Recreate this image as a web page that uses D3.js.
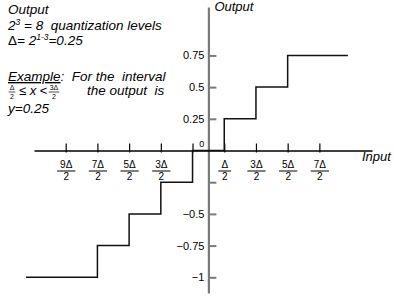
<!DOCTYPE html>
<html>
<head>
<meta charset="utf-8">
<script src="https://cdn.jsdelivr.net/npm/d3@7"></script>
<style>
  body { margin: 0; background: #fff; }
  svg text { font-family: "Liberation Sans", Arial, sans-serif; white-space: pre; }
</style>
</head>
<body>
<div id="chart"></div>
<script>
// quantizer: output level and where each step starts (input in units of delta)
let stepStarts = [-5.75, -3.5, -2.5, -1.5, -0.5, 0.5, 1.5, 2.5];
let stepLevels = [-1, -0.75, -0.5, -0.25, 0, 0.25, 0.5, 0.75];
let stepEnd = 4.4;

// input ticks and the numerators of their fraction labels (all over 2)
let xTicks = [-4.5, -3.5, -2.5, -1.5, -0.5, 0.5, 1.5, 2.5, 3.5];
let xTickNums = ['9Δ', '7Δ', '5Δ', '3Δ', '', 'Δ', '3Δ', '5Δ', '7Δ'];

// output ticks
let yTicks = [-1, -0.75, -0.5, -0.25, 0.25, 0.5, 0.75];
let yTickLabels = ['−1', '−0.75', '−0.5', '', '0.25', '0.5', '0.75'];

let width = 394, height = 296;

let svg = d3.select('#chart')
    .append('svg')
    .attr('width', width)
    .attr('height', height);

let x = d3.scaleLinear().domain([-5.5, 5.16]).range([34, 372]);
let y = d3.scaleLinear().domain([-1.124, 1.132]).range([293, 7]);

//Y Axis (gray, ticks pointing right, labels left)
let yAxisCall = d3.axisLeft(y)
    .tickValues(yTicks)
    .tickSizeInner(-8)
    .tickSizeOuter(0)
    .tickPadding(4)
    .tickFormat(function (d, i) { return yTickLabels[i]; });

let yAxis = svg.append('g')
    .attr('transform', 'translate(' + x(0) + ',0)')
    .call(yAxisCall);
yAxis.select('.domain').attr('stroke', '#7a7a7a').attr('stroke-width', 2.2);
yAxis.selectAll('.tick line').attr('stroke', '#7a7a7a').attr('stroke-width', 2);
yAxis.selectAll('.tick text')
    .attr('font-family', '"Liberation Sans", Arial, sans-serif')
    .attr('font-size', '11px')
    .attr('fill', '#000');

//X Axis (black, ticks crossing the line)
let xAxisCall = d3.axisBottom(x)
    .tickValues(xTicks)
    .tickSizeOuter(0)
    .tickFormat('');

let xAxis = svg.append('g')
    .attr('transform', 'translate(0,' + y(0) + ')')
    .call(xAxisCall);
xAxis.select('.domain').attr('stroke', '#000').attr('stroke-width', 1.3);
xAxis.selectAll('.tick line')
    .attr('y1', 2)
    .attr('y2', -7)
    .attr('stroke', '#000')
    .attr('stroke-width', 1.2);

// fraction labels under the input ticks
xAxis.selectAll('.tick').each(function (d) {
    let i = xTicks.indexOf(d);
    if (xTickNums[i] === '') return;
    let t = d3.select(this);
    let num = t.append('text')
        .attr('y', 17)
        .attr('text-anchor', 'middle')
        .attr('font-size', '10px')
        .attr('fill', '#000')
        .text(xTickNums[i]);
    let w = num.node().getComputedTextLength() + 6;
    t.append('line')
        .attr('x1', -w / 2).attr('x2', w / 2)
        .attr('y1', 20.5).attr('y2', 20.5)
        .attr('stroke', '#000')
        .attr('stroke-width', 1);
    t.append('text')
        .attr('y', 29)
        .attr('text-anchor', 'middle')
        .attr('font-size', '10px')
        .attr('fill', '#000')
        .text('2');
});

// origin label
svg.append('text')
    .attr('x', x(0) - 4)
    .attr('y', y(0) - 4)
    .attr('text-anchor', 'end')
    .attr('font-family', '"Liberation Serif", serif')
    .attr('font-size', '9px')
    .text('0');

// staircase
let stepPoints = stepStarts.map(function (s, i) { return [s, stepLevels[i]]; });
stepPoints.push([stepEnd, stepLevels[stepLevels.length - 1]]);

let line = d3.line()
    .x(function (d) { return x(d[0]); })
    .y(function (d) { return y(d[1]); })
    .curve(d3.curveStepAfter);

svg.append('path')
    .datum(stepPoints)
    .attr('d', line)
    .attr('fill', 'none')
    .attr('stroke', '#111')
    .attr('stroke-width', 1.5);

// axis titles
svg.append('text')
    .attr('x', x(0) + 6)
    .attr('y', 11)
    .attr('font-size', '13px')
    .attr('font-style', 'italic')
    .text('Output');

svg.append('text')
    .attr('x', 362)
    .attr('y', 161)
    .attr('font-size', '13px')
    .attr('font-style', 'italic')
    .text('Input');

// annotation block
let note = svg.append('g')
    .attr('font-size', '13.5px')
    .attr('font-style', 'italic');

note.append('text').attr('x', 8).attr('y', 14).text('Output');

let l2 = note.append('text').attr('x', 8).attr('y', 29.5);
l2.append('tspan').text('2');
l2.append('tspan').attr('font-size', '8.5px').attr('dy', -5).text('3');
l2.append('tspan').attr('dy', 5).text(' = 8  quantization levels');

let l3 = note.append('text').attr('x', 8).attr('y', 44.5);
l3.append('tspan').attr('font-style', 'normal').text('Δ');
l3.append('tspan').text('= 2');
l3.append('tspan').attr('font-size', '8.5px').attr('dy', -5).text('1-3');
l3.append('tspan').attr('dy', 5).text('=0.25');

let l4 = note.append('text').attr('x', 8).attr('y', 81);
l4.append('tspan').attr('text-decoration', 'underline').text('Example');
l4.append('tspan').text(':  For the  interval');

// small serif fractions in the inequality
function smallFrac(px, top, numText) {
    let g = note.append('g').attr('font-style', 'normal');
    let n = g.append('text')
        .attr('x', px).attr('y', top)
        .attr('text-anchor', 'middle')
        .attr('font-family', '"Liberation Serif", serif')
        .attr('font-size', '7px')
        .text(numText);
    let w = n.node().getComputedTextLength() + 2;
    g.append('line')
        .attr('x1', px - w / 2).attr('x2', px + w / 2)
        .attr('y1', top + 2).attr('y2', top + 2)
        .attr('stroke', '#000').attr('stroke-width', 0.7);
    g.append('text')
        .attr('x', px).attr('y', top + 8.5)
        .attr('text-anchor', 'middle')
        .attr('font-family', '"Liberation Serif", serif')
        .attr('font-size', '7px')
        .text('2');
}
smallFrac(12, 90, 'Δ');
note.append('text')
    .attr('x', 19).attr('y', 95)
    .attr('font-style', 'normal')
    .attr('font-family', '"Liberation Serif", serif')
    .attr('font-size', '13px')
    .html('≤ <tspan font-style="italic">x</tspan> &lt;');
smallFrac(54, 90, '3Δ');
note.append('text').attr('x', 87).attr('y', 95).text('the output  is');

note.append('text').attr('x', 8).attr('y', 113).text('y=0.25');
</script>
</body>
</html>
